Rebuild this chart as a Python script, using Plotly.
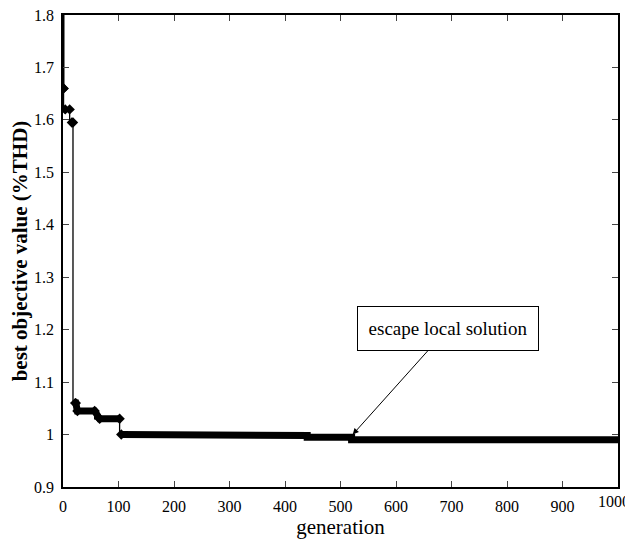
import plotly.graph_objects as go

# plateau data: generation start/end and best value
plateau_start = [0, 1, 4, 16, 22, 26, 66, 105, 185, 440, 520]
plateau_end = [0, 1, 12, 18, 23, 57, 102, 185, 440, 520, 1000]
plateau_val = [1.8, 1.66, 1.62, 1.595, 1.06, 1.045, 1.03, 1.0, 0.998, 0.995, 0.99]

x_ticks = [0, 100, 200, 300, 400, 500, 600, 700, 800, 900, 1000]
x_tick_text = ["0", "100", "200", "300", "400", "500", "600", "700", "800", "900", "1000"]
y_ticks = [0.9, 1.0, 1.1, 1.2, 1.3, 1.4, 1.5, 1.6, 1.7, 1.8]
y_tick_text = ["0.9", "1", "1.1", "1.2", "1.3", "1.4", "1.5", "1.6", "1.7", "1.8"]

annot_text = "escape local solution"
annot_head = (522, 1.0)
annot_box = (694, 1.203)

# build point list
px, py = [], []
for s, e, v in zip(plateau_start, plateau_end, plateau_val):
    px += [s, e]
    py += [v, v]

# thick band: connect plateaus with small change, break on large drops
bx, by = [], []
prev = None
for s, e, v in zip(plateau_start[4:], plateau_end[4:], plateau_val[4:]):
    if prev is not None and abs(prev - v) > 0.02:
        bx.append(None)
        by.append(None)
    bx += [s, e]
    by += [v, v]
    prev = v

mx = [x for x in px[2:] if x < 110]
my = [y for x, y in zip(px[2:], py[2:]) if x < 110]

font_family = "Liberation Serif"

fig = go.Figure()
fig.add_trace(go.Scatter(x=px, y=py, mode="lines", line=dict(color="black", width=1.3, shape="vh"),
                         showlegend=False, hoverinfo="skip"))
fig.add_trace(go.Scatter(x=bx, y=by, mode="lines", line=dict(color="black", width=7),
                         showlegend=False, hoverinfo="skip"))
fig.add_trace(go.Scatter(x=mx, y=my, mode="markers",
                         marker=dict(symbol="diamond", size=8, color="black"),
                         showlegend=False, hoverinfo="skip"))
# thick start at gen 0
fig.add_trace(go.Scatter(x=[0, 0], y=[1.8, 1.66], mode="lines", line=dict(color="black", width=3),
                         showlegend=False, hoverinfo="skip"))

fig.add_annotation(x=annot_head[0], y=annot_head[1], ax=annot_box[0], ay=annot_box[1],
                   xref="x", yref="y", axref="x", ayref="y",
                   text=annot_text, showarrow=True, arrowhead=2, arrowsize=1.2, arrowwidth=1,
                   arrowcolor="black", bordercolor="black", borderwidth=1, bgcolor="white",
                   width=178, height=41,
                   font=dict(family=font_family, size=19, color="black"))

# last x tick label drawn right-aligned at the page edge so it is not clipped
fig.add_annotation(x=1.025, y=0, xref="paper", yref="paper", xanchor="right", yanchor="top",
                   yshift=-4, text=x_tick_text[-1], showarrow=False,
                   font=dict(family=font_family, size=16, color="black"))

tick_font = dict(family=font_family, size=16, color="black")
# page body has an 8px margin, so the figure is sized/offset to compensate
fig.update_layout(
    width=625, height=535,
    margin=dict(l=55, r=15, t=7, b=56),
    paper_bgcolor="white", plot_bgcolor="white",
    font=dict(family=font_family, color="black", size=16),
    xaxis=dict(range=[0, 1000], tickvals=x_ticks, ticktext=x_tick_text[:-1] + [""],
               ticks="inside", ticklen=6, tickwidth=1,
               showline=True, linecolor="black", linewidth=1.5, mirror="ticks",
               showgrid=False, zeroline=False, tickfont=tick_font, ticklabelstandoff=4,
               automargin=False, ticklabeloverflow="allow",
               title=dict(text="generation", font=dict(family=font_family, size=21), standoff=2)),
    yaxis=dict(range=[0.9, 1.8], tickvals=y_ticks, ticktext=y_tick_text, ticks="inside",
               ticklen=6, tickwidth=1, showline=True, linecolor="black", linewidth=1.5,
               mirror="ticks", showgrid=False, zeroline=False, tickfont=tick_font,
               ticklabelstandoff=4, automargin=False, ticklabeloverflow="allow",
               title=dict(text="<b>best objective value (%THD)</b>",
                          font=dict(family=font_family, size=21), standoff=6)),
)

fig.write_html("out.html")
